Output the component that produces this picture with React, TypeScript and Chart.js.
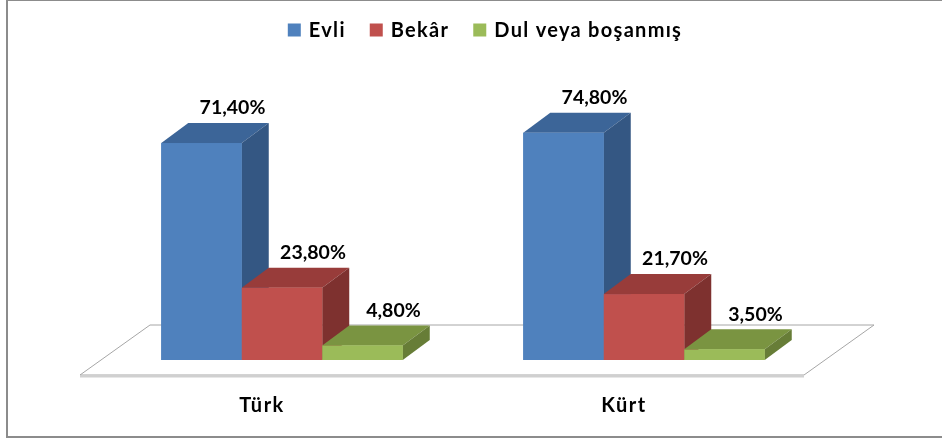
import React, { useEffect, useRef } from "react";
import { Chart, registerables } from "chart.js";

Chart.register(...registerables);

const categories = ["Türk", "Kürt"];
const seriesLabels = ["Evli", "Bekâr", "Dul veya boşanmış"];
const evli = [71.4, 74.8];
const bekar = [23.8, 21.7];
const dul = [4.8, 3.5];

const frontColors = ["#4F81BD", "#C0504D", "#9BBB59"];
const topColors = ["#3C6598", "#983C3A", "#7A9441"];
const sideColors = ["#345783", "#7E312F", "#677D37"];

const FONT = "Lato, 'Open Sans', sans-serif";
const DX = 27;
const DY = -20;

const fmt = (v: number) => v.toFixed(2).replace(".", ",") + "%";

const threeD = {
  id: "threeD",
  beforeDatasetsDraw(chart: any) {
    const ctx = chart.ctx as any;
    const a = chart.chartArea;
    ctx.save();
    // outer border
    ctx.strokeStyle = "#8c8c8c";
    ctx.lineWidth = 2;
    ctx.strokeRect(7, 0, 945, 437);

    // floor
    const yb = chart.scales.y.getPixelForValue(0);
    const fl = a.left - 21, fr = a.right - 21, fy = yb + 15;
    const bl = a.left + 49, br = a.right + 49, by = yb - 35;
    ctx.beginPath();
    ctx.moveTo(fl, fy);
    ctx.lineTo(fr, fy);
    ctx.lineTo(br, by);
    ctx.lineTo(bl, by);
    ctx.closePath();
    ctx.fillStyle = "#ffffff";
    ctx.fill();
    ctx.strokeStyle = "#a6a6a6";
    ctx.lineWidth = 1;
    ctx.stroke();
    ctx.beginPath();
    ctx.moveTo(fl, fy + 1.5);
    ctx.lineTo(fr, fy + 1.5);
    ctx.strokeStyle = "#d0d0d0";
    ctx.lineWidth = 2;
    ctx.stroke();

    // legend
    ctx.font = `bold 20px ${FONT}`;
    ctx.letterSpacing = "1.3px";
    ctx.textBaseline = "middle";
    ctx.textAlign = "left";
    const box = 13, gapT = 8, gapI = 24;
    const widths = chart.data.datasets.map((d: any) => ctx.measureText(d.label).width);
    const total = widths.reduce((s: number, w: number) => s + box + gapT + w, 0) + gapI * (widths.length - 1);
    let x = 485 - total / 2;
    const ly = 30;
    chart.data.datasets.forEach((d: any, i: number) => {
      ctx.fillStyle = d.backgroundColor;
      ctx.fillRect(x, ly - 6.5, box, box);
      ctx.fillStyle = "#000";
      ctx.fillText(d.label, x + box + gapT, ly + 1);
      x += box + gapT + widths[i] + gapI;
    });

    // category labels
    ctx.font = `bold 20px ${FONT}`;
    ctx.letterSpacing = "1.5px";
    ctx.textAlign = "center";
    chart.data.labels.forEach((lab: string, i: number) => {
      const cx = chart.scales.x.getPixelForValue(i) - 20;
      ctx.fillText(lab, cx, 406);
    });
    ctx.restore();
  },
  afterDatasetsDraw(chart: any) {
    const ctx = chart.ctx as any;
    ctx.save();
    const n = chart.data.labels.length;
    const labels: any[] = [];
    for (let i = 0; i < n; i++) {
      chart.data.datasets.forEach((ds: any, d: number) => {
        const el = chart.getDatasetMeta(d).data[i];
        const p = el.getProps(["x", "y", "base", "width"], true);
        const L = p.x - p.width / 2, R = p.x + p.width / 2, T = p.y, B = p.base;
        // top
        ctx.beginPath();
        ctx.moveTo(L, T);
        ctx.lineTo(L + DX, T + DY);
        ctx.lineTo(R + DX, T + DY);
        ctx.lineTo(R, T);
        ctx.closePath();
        ctx.fillStyle = topColors[d];
        ctx.fill();
        // side
        ctx.beginPath();
        ctx.moveTo(R, T);
        ctx.lineTo(R + DX, T + DY);
        ctx.lineTo(R + DX, B + DY);
        ctx.lineTo(R, B);
        ctx.closePath();
        ctx.fillStyle = sideColors[d];
        ctx.fill();
        // front
        ctx.fillStyle = frontColors[d];
        ctx.fillRect(L, T, R - L, B - T);
        labels.push({ x: p.x + 31, y: T - 35, t: fmt(ds.data[i]) });
      });
    }
    ctx.font = `bold 19.5px ${FONT}`;
    ctx.letterSpacing = "0px";
    ctx.fillStyle = "#000";
    ctx.textAlign = "center";
    ctx.textBaseline = "middle";
    labels.forEach((l) => ctx.fillText(l.t, l.x, l.y));
    ctx.restore();
  },
};

export default function App() {
  const ref = useRef<HTMLCanvasElement | null>(null);
  useEffect(() => {
    document.body.style.margin = "0";
    const chart = new Chart(ref.current as HTMLCanvasElement, {
      type: "bar",
      data: {
        labels: categories,
        datasets: [
          { label: seriesLabels[0], data: evli, backgroundColor: frontColors[0] },
          { label: seriesLabels[1], data: bekar, backgroundColor: frontColors[1] },
          { label: seriesLabels[2], data: dul, backgroundColor: frontColors[2] },
        ],
      },
      options: {
        responsive: false,
        animation: false,
        layout: { padding: { left: 101, right: 117, top: 117, bottom: 79 } },
        datasets: { bar: { barPercentage: 1, categoryPercentage: 0.667 } },
        scales: {
          x: { display: false },
          y: { display: false, min: 0, max: 80 },
        },
        plugins: { legend: { display: false }, tooltip: { enabled: false } },
      },
      plugins: [threeD],
    });
    return () => chart.destroy();
  }, []);
  return (
    <div style={{ width: 942, height: 439, background: "#fff" }}>
      <canvas ref={ref} width={942} height={439} style={{ display: "block" }} />
    </div>
  );
}
